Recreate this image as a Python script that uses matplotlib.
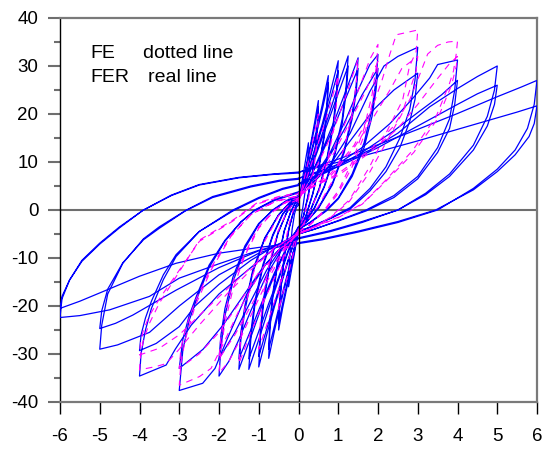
import matplotlib
matplotlib.use("Agg")
import matplotlib.pyplot as plt
from matplotlib.ticker import MultipleLocator

plt.rcParams['font.family'] = ['Liberation Sans', 'DejaVu Sans']

# ---------------- data (displacement, force) ----------------
# FER (blue solid) loops, two cycles per amplitude
fer_6 = [(0, 7.8), (1, 10.6), (2, 13.6), (3, 16.8), (4, 20.1), (5, 23.6), (5.6, 25.6), (6, 27.0),
         (5.93, 22.0), (5.76, 17.0), (5.45, 12.5), (5.0, 8.5), (4.4, 4.5), (3.5, 0.0), (2.5, -2.6),
         (1.5, -4.6), (0.6, -6.2), (0, -7.0),
         (-1, -8.4), (-2, -11.2), (-3, -14.2), (-3.75, -18.0), (-4.75, -20.8), (-5.5, -22.0), (-6, -22.4),
         (-5.95, -18.5), (-5.76, -14.6), (-5.45, -10.5), (-5.0, -6.9), (-4.5, -3.5), (-3.9, 0.0),
         (-3.2, 3.1), (-2.5, 5.3), (-1.5, 6.8), (-0.65, 7.5), (0, 7.9),
         (1.5, 11.0), (3, 14.4), (4.5, 18.0), (5.5, 20.4), (6, 21.7),
         (5.93, 18.0), (5.8, 15.3), (5.45, 11.5), (5.0, 8.0), (4.4, 4.2), (3.45, 0.0), (2.5, -2.4),
         (1.5, -4.4), (0.6, -6.0), (0, -6.8),
         (-1, -7.8), (-2, -9.0), (-3.08, -11.1), (-4.0, -13.8), (-4.92, -17.0), (-5.5, -19.0), (-6, -20.5),
         (-5.95, -18.0), (-5.76, -14.6), (-5.45, -10.7), (-5.0, -7.1), (-4.5, -3.7), (-3.92, -0.1),
         (-3.2, 3.0), (-2.5, 5.2), (-1.5, 6.7), (-0.65, 7.4), (0, 7.7)]

fer_5 = [(0, 6.6), (1, 9.5), (1.8, 12.5), (2.5, 16.0), (3.3, 21.5), (4.0, 25.3), (4.5, 27.8), (5, 30.0),
         (4.93, 25.0), (4.75, 19.5), (4.4, 13.5), (3.8, 7.5), (3.2, 3.5), (2.5, 0.0), (1.6, -2.6),
         (0.8, -4.5), (0, -6.0),
         (-1, -9.0), (-2, -13.5), (-3, -20.0), (-3.75, -25.5), (-4.55, -28.1), (-5, -29.0),
         (-4.95, -24.0), (-4.8, -17.5), (-4.42, -11.1), (-3.9, -6.0), (-3.5, -3.5), (-2.82, 0.0),
         (-2.16, 2.8), (-1.2, 5.0), (-0.48, 6.2), (0, 6.6),
         (1, 9.0), (2, 13.0), (3, 17.5), (4, 22.0), (4.5, 24.2), (5, 26.0),
         (4.93, 22.0), (4.75, 17.5), (4.4, 12.5), (3.8, 7.0), (3.2, 3.2), (2.5, 0.0), (1.6, -2.4),
         (0.8, -4.3), (0, -5.8),
         (-1, -8.5), (-2, -12.0), (-3.08, -16.7), (-4.17, -21.9), (-4.6, -23.6), (-5, -24.7),
         (-4.95, -21.0), (-4.8, -16.5), (-4.42, -11.0), (-3.9, -6.2), (-3.5, -3.8), (-2.85, -0.2),
         (-2.16, 2.6), (-1.2, 4.8), (-0.48, 6.0), (0, 6.4)]

fer_4 = [(0, 5.5), (0.8, 8.5), (1.6, 13.0), (2.3, 18.0), (2.9, 23.5), (3.3, 27.5), (3.5, 30.3), (4, 31.25),
         (3.93, 25.0), (3.8, 19.0), (3.5, 13.0), (3.0, 7.0), (2.4, 3.0), (1.7, 0.0), (1.0, -2.2),
         (0.4, -4.0), (0, -5.0),
         (-0.6, -8.0), (-1.2, -12.0), (-2, -17.5), (-2.7, -24.0), (-3.1, -29.0), (-3.33, -32.3), (-4, -34.6),
         (-3.96, -29.9), (-3.85, -25.0), (-3.7, -20.5), (-3.4, -14.5), (-3.08, -9.7), (-2.5, -4.5),
         (-1.65, 0.0), (-1.0, 2.6), (-0.4, 4.5), (0, 5.3),
         (0.8, 8.2), (1.6, 12.0), (2.4, 16.5), (3.0, 20.3), (3.6, 24.0), (4, 27.0),
         (3.93, 22.0), (3.8, 17.0), (3.5, 12.0), (3.0, 6.5), (2.4, 2.6), (1.7, -0.2), (1.0, -2.3),
         (0.4, -4.0), (0, -5.0),
         (-0.6, -7.5), (-1.2, -10.5), (-2, -15.5), (-2.6, -20.0), (-3.0, -24.3), (-3.58, -27.8), (-4, -29.3),
         (-3.96, -26.0), (-3.85, -22.5), (-3.7, -19.0), (-3.4, -13.5), (-3.08, -9.3), (-2.5, -4.5),
         (-1.65, -0.2), (-1.0, 2.4), (-0.4, 4.3), (0, 5.1)]

fer_3 = [(0, 3.5), (0.4, 6.0), (0.8, 9.5), (1.3, 16.0), (1.79, 24.6), (2.15, 30.0), (2.5, 32.0), (3, 33.9),
         (2.93, 27.0), (2.8, 21.0), (2.55, 15.0), (2.2, 9.0), (1.8, 4.5), (1.3, 0.5), (0.8, -1.7),
         (0.3, -3.5), (0, -4.5),
         (-0.4, -7.5), (-0.8, -11.0), (-1.3, -17.5), (-1.8, -27.0), (-2.1, -33.0), (-2.41, -36.1), (-3, -37.6),
         (-2.91, -29.2), (-2.75, -23.0), (-2.57, -18.75), (-2.25, -12.0), (-1.85, -6.5), (-1.45, -2.5),
         (-1.1, 0.0), (-0.6, 2.2), (0, 3.8),
         (0.4, 6.0), (0.9, 10.0), (1.4, 15.5), (1.9, 21.0), (2.4, 25.0), (3, 28.5),
         (2.93, 23.0), (2.8, 18.5), (2.55, 13.0), (2.2, 8.0), (1.8, 4.0), (1.3, 0.2), (0.8, -1.8),
         (0.3, -3.6), (0, -4.5),
         (-0.4, -7.5), (-0.9, -12.0), (-1.4, -18.0), (-1.9, -24.0), (-2.4, -29.0), (-3, -33.0),
         (-2.91, -27.0), (-2.75, -22.0), (-2.57, -18.0), (-2.25, -11.5), (-1.85, -6.3), (-1.45, -2.5),
         (-1.1, -0.1), (-0.6, 2.0), (0, 3.6)]

fer_2 = [(0, 3.0), (0.4, 7.0), (0.8, 12.0), (1.2, 19.0), (1.5, 25.0), (1.79, 30.2), (2, 32.4),
         (1.95, 27.0), (1.85, 21.0), (1.65, 14.0), (1.35, 7.5), (1.0, 2.5), (0.7, 0.0), (0.3, -2.5), (0, -4.0),
         (-0.4, -8.0), (-0.8, -13.5), (-1.2, -21.0), (-1.5, -27.0), (-1.75, -31.5), (-2, -34.6),
         (-1.95, -28.5), (-1.85, -22.0), (-1.65, -15.0), (-1.35, -8.0), (-1.0, -3.0), (-0.65, 0.0),
         (-0.3, 2.0), (0, 3.0),
         (0.4, 6.5), (0.8, 11.5), (1.2, 17.5), (1.6, 24.0), (2, 29.5),
         (1.95, 25.0), (1.85, 19.5), (1.65, 13.0), (1.35, 7.0), (1.0, 2.3), (0.7, -0.2), (0.3, -2.6), (0, -4.0),
         (-0.4, -7.5), (-0.8, -12.5), (-1.2, -19.0), (-1.6, -25.5), (-2, -31.0),
         (-1.95, -26.0), (-1.85, -20.5), (-1.65, -14.0), (-1.35, -7.5), (-1.0, -2.8), (-0.65, -0.1),
         (-0.3, 1.8), (0, 2.8)]

fer_15 = [(0, 2.5), (0.3, 7.0), (0.6, 12.5), (0.9, 18.5), (1.2, 25.0), (1.5, 31.7),
          (1.45, 26.0), (1.35, 20.0), (1.15, 12.5), (0.85, 5.5), (0.5, 0.5), (0.2, -2.5), (0, -3.5),
          (-0.3, -8.0), (-0.6, -13.5), (-0.9, -19.5), (-1.2, -26.5), (-1.5, -33.2),
          (-1.45, -27.0), (-1.35, -21.0), (-1.15, -13.0), (-0.85, -6.0), (-0.5, -1.0), (-0.2, 1.8), (0, 2.8),
          (0.3, 6.8), (0.6, 12.0), (0.9, 17.5), (1.2, 23.5), (1.5, 29.5),
          (1.45, 24.5), (1.35, 19.0), (1.15, 12.0), (0.85, 5.2), (0.5, 0.3), (0.2, -2.5), (0, -3.5),
          (-0.3, -7.8), (-0.6, -13.0), (-0.9, -18.8), (-1.2, -25.0), (-1.5, -31.0),
          (-1.45, -25.5), (-1.35, -20.0), (-1.15, -12.5), (-0.85, -5.8), (-0.5, -1.0), (-0.2, 1.6), (0, 2.6)]

fer_125 = [(0, 2.2), (0.25, 7.5), (0.5, 13.5), (0.75, 19.5), (1.0, 26.0), (1.25, 32.1),
           (1.2, 26.0), (1.1, 19.0), (0.9, 11.5), (0.65, 5.0), (0.4, 0.5), (0.15, -2.8), (0, -3.8),
           (-0.25, -8.5), (-0.5, -14.5), (-0.75, -20.5), (-1.0, -27.0), (-1.25, -33.2),
           (-1.2, -27.0), (-1.1, -20.0), (-0.9, -12.0), (-0.65, -5.5), (-0.4, -1.0), (-0.15, 1.8), (0, 2.6),
           (0.25, 7.0), (0.5, 12.8), (0.75, 18.5), (1.0, 24.3), (1.25, 30.0),
           (1.2, 24.5), (1.1, 18.0), (0.9, 11.0), (0.65, 4.8), (0.4, 0.3), (0.15, -2.8), (0, -3.8),
           (-0.25, -8.2), (-0.5, -14.0), (-0.75, -19.5), (-1.0, -25.3), (-1.25, -31.0),
           (-1.2, -25.5), (-1.1, -19.0), (-0.9, -11.5), (-0.65, -5.2), (-0.4, -0.8), (-0.15, 1.7), (0, 2.5)]

fer_1 = [(0, 2.0), (0.2, 7.0), (0.4, 12.5), (0.6, 18.0), (0.8, 24.5), (1.0, 31.1),
         (0.96, 25.0), (0.88, 18.5), (0.72, 11.0), (0.52, 4.5), (0.3, 0.0), (0.12, -3.0), (0, -4.0),
         (-0.2, -9.0), (-0.4, -14.5), (-0.6, -20.0), (-0.8, -26.0), (-1.0, -32.7),
         (-0.96, -26.5), (-0.88, -19.5), (-0.72, -11.5), (-0.52, -5.0), (-0.3, -0.5), (-0.12, 1.8), (0, 2.4),
         (0.2, 6.8), (0.4, 12.0), (0.6, 17.3), (0.8, 23.0), (1.0, 29.0),
         (0.96, 23.5), (0.88, 17.5), (0.72, 10.5), (0.52, 4.3), (0.3, -0.2), (0.12, -3.0), (0, -4.0),
         (-0.2, -8.8), (-0.4, -14.0), (-0.6, -19.3), (-0.8, -24.8), (-1.0, -30.5),
         (-0.96, -25.0), (-0.88, -18.5), (-0.72, -11.0), (-0.52, -4.8), (-0.3, -0.6), (-0.12, 1.6), (0, 2.2)]

fer_075 = [(0, 1.8), (0.15, 6.5), (0.3, 11.5), (0.45, 16.5), (0.6, 22.0), (0.75, 28.0),
           (0.72, 22.5), (0.65, 16.0), (0.52, 9.5), (0.36, 3.5), (0.2, -0.8), (0.08, -3.5), (0, -4.5),
           (-0.15, -9.5), (-0.3, -14.5), (-0.45, -19.5), (-0.6, -25.0), (-0.75, -30.9),
           (-0.72, -25.0), (-0.65, -18.5), (-0.52, -11.0), (-0.36, -4.5), (-0.2, -0.5), (-0.08, 1.6), (0, 2.0),
           (0.15, 6.3), (0.3, 11.0), (0.45, 15.8), (0.6, 21.0), (0.75, 26.5),
           (0.72, 21.5), (0.65, 15.3), (0.52, 9.0), (0.36, 3.3), (0.2, -1.0), (0.08, -3.6), (0, -4.5),
           (-0.15, -9.3), (-0.3, -14.0), (-0.45, -18.8), (-0.6, -24.0), (-0.75, -29.0),
           (-0.72, -23.5), (-0.65, -17.5), (-0.52, -10.5), (-0.36, -4.3), (-0.2, -0.5), (-0.08, 1.5), (0, 1.9)]

fer_05 = [(0, 1.5), (0.1, 5.5), (0.2, 9.5), (0.3, 13.5), (0.4, 18.0), (0.5, 22.8),
          (0.48, 18.5), (0.43, 13.5), (0.35, 8.0), (0.24, 3.0), (0.13, -1.0), (0.05, -3.5), (0, -4.5),
          (-0.1, -8.5), (-0.2, -12.5), (-0.3, -16.5), (-0.4, -20.5), (-0.5, -25.0),
          (-0.48, -20.5), (-0.43, -15.5), (-0.35, -9.5), (-0.24, -4.0), (-0.13, -0.5), (-0.05, 1.2), (0, 1.6),
          (0.1, 5.3), (0.2, 9.0), (0.3, 13.0), (0.4, 17.0), (0.5, 21.5),
          (0.48, 17.5), (0.43, 12.8), (0.35, 7.5), (0.24, 2.8), (0.13, -1.2), (0.05, -3.6), (0, -4.5),
          (-0.1, -8.3), (-0.2, -12.0), (-0.3, -15.8), (-0.4, -19.5), (-0.5, -23.5),
          (-0.48, -19.5), (-0.43, -14.8), (-0.35, -9.0), (-0.24, -3.8), (-0.13, -0.5), (-0.05, 1.1), (0, 1.5)]

fer_025 = [(0, 1.0), (0.05, 4.0), (0.1, 6.5), (0.15, 9.0), (0.2, 11.5), (0.25, 14.0),
           (0.24, 11.0), (0.21, 7.5), (0.16, 3.5), (0.1, 0.0), (0.05, -2.5), (0, -4.0),
           (-0.05, -6.5), (-0.1, -9.0), (-0.15, -11.3), (-0.2, -13.6), (-0.25, -16.0),
           (-0.24, -12.5), (-0.21, -8.5), (-0.16, -4.0), (-0.1, -0.8), (-0.05, 0.6), (0, 1.0)]

# FE (magenta dashed) loops
fe_4 = [(0, 3.3), (1, 7.6), (1.8, 12.5), (2.4, 17.5), (2.8, 23.0), (3.04, 28.0), (3.25, 32.5), (3.5, 34.3),
        (3.76, 35.0), (4, 35.2),
        (3.97, 32.6), (3.9, 29.0), (3.8, 26.4), (3.46, 19.4), (2.88, 12.5), (2.2, 6.25), (1.62, 1.4),
        (1.0, -1.5), (0.4, -3.5), (0, -4.8),
        (-0.6, -8.0), (-1.2, -12.5), (-1.8, -17.5), (-2.5, -24.0), (-3.0, -29.0), (-3.33, -32.0),
        (-3.58, -32.6), (-4, -33.3),
        (-3.97, -30.0), (-3.9, -27.0), (-3.75, -23.6), (-3.5, -19.4), (-3.08, -13.9), (-2.49, -6.25),
        (-1.65, -2.1), (-1.06, 1.4), (-0.5, 2.8), (0, 3.6),
        (1, 7.2), (1.8, 12.0), (2.5, 17.0), (3.0, 22.0), (3.46, 27.0), (3.8, 30.5), (4, 32.0),
        (3.97, 30.0), (3.85, 26.0), (3.5, 19.0), (2.9, 12.0), (2.2, 6.0), (1.6, 1.2), (1.0, -1.6),
        (0.4, -3.6), (0, -4.8),
        (-0.6, -7.8), (-1.2, -12.0), (-1.8, -16.5), (-2.5, -22.0), (-3.0, -26.0), (-3.5, -28.8), (-4, -30.2),
        (-3.97, -27.5), (-3.9, -25.0), (-3.75, -22.0), (-3.5, -18.5), (-3.08, -13.5), (-2.49, -6.5),
        (-1.65, -2.3), (-1.06, 1.2), (-0.5, 2.6), (0, 3.4)]

fe_3 = [(0, 3.0), (0.8, 7.5), (1.4, 13.5), (1.8, 20.0), (2.1, 27.0), (2.3, 32.5), (2.46, 36.5), (3, 37.5),
        (2.96, 33.0), (2.79, 29.9), (2.62, 22.9), (2.2, 16.0), (1.79, 9.0), (1.28, 2.1), (0.8, -1.5),
        (0.3, -4.0), (0, -5.0),
        (-0.5, -8.5), (-1.0, -13.5), (-1.5, -21.0), (-1.9, -28.0), (-2.2, -33.0), (-2.49, -34.7), (-3, -36.5),
        (-2.96, -32.0), (-2.85, -27.0), (-2.6, -20.0), (-2.2, -12.5), (-1.7, -5.5), (-1.2, -1.0),
        (-0.6, 1.8), (0, 3.0),
        (0.8, 7.0), (1.4, 13.0), (1.9, 19.5), (2.3, 25.0), (2.6, 29.5), (3, 32.0),
        (2.96, 29.0), (2.8, 25.0), (2.6, 20.0), (2.2, 14.0), (1.8, 8.0), (1.28, 1.8), (0.8, -1.6),
        (0.3, -4.0), (0, -5.0),
        (-0.5, -8.3), (-1.0, -13.0), (-1.5, -19.5), (-2.0, -25.5), (-2.5, -30.0), (-3, -33.0),
        (-2.96, -29.0), (-2.85, -25.0), (-2.6, -19.0), (-2.2, -12.0), (-1.7, -5.3), (-1.2, -1.0),
        (-0.6, 1.7), (0, 2.9)]

fe_2 = [(0, 2.5), (0.5, 7.0), (0.9, 13.0), (1.3, 20.5), (1.6, 27.0), (1.8, 31.5), (2, 34.5),
        (1.96, 30.0), (1.85, 24.0), (1.65, 17.0), (1.35, 10.0), (1.0, 4.0), (0.65, 0.0), (0.3, -3.0), (0, -4.5),
        (-0.4, -9.0), (-0.8, -15.0), (-1.2, -22.0), (-1.5, -27.5), (-1.75, -31.5), (-2, -34.0),
        (-1.96, -29.5), (-1.85, -23.5), (-1.65, -16.5), (-1.35, -9.5), (-1.0, -3.8), (-0.6, 0.0),
        (-0.3, 1.8), (0, 2.5),
        (0.5, 6.5), (0.9, 12.0), (1.3, 18.5), (1.7, 25.0), (2, 31.0),
        (1.96, 27.0), (1.85, 22.0), (1.65, 15.5), (1.35, 9.0), (1.0, 3.5), (0.65, -0.3), (0.3, -3.0), (0, -4.5),
        (-0.4, -8.5), (-0.8, -14.0), (-1.2, -20.0), (-1.6, -26.0), (-2, -31.0),
        (-1.96, -27.0), (-1.85, -21.5), (-1.65, -15.0), (-1.35, -9.0), (-1.0, -3.5), (-0.6, -0.2),
        (-0.3, 1.6), (0, 2.3)]

fe_15 = [(0, 2.0), (0.3, 6.5), (0.6, 11.5), (0.9, 17.0), (1.2, 24.0), (1.5, 31.5),
         (1.45, 26.0), (1.35, 20.0), (1.15, 13.0), (0.85, 6.0), (0.5, 0.8), (0.2, -2.5), (0, -4.0),
         (-0.3, -8.5), (-0.6, -14.0), (-0.9, -19.5), (-1.2, -25.5), (-1.5, -32.0),
         (-1.45, -26.5), (-1.35, -20.5), (-1.15, -13.5), (-0.85, -6.5), (-0.5, -1.2), (-0.2, 1.5), (0, 2.2)]

fe_1 = [(0, 1.8), (0.2, 6.5), (0.4, 11.5), (0.6, 16.5), (0.8, 22.0), (1.0, 28.0),
        (0.96, 22.5), (0.88, 16.5), (0.72, 10.0), (0.52, 4.0), (0.3, 0.0), (0.12, -3.0), (0, -4.0),
        (-0.2, -9.0), (-0.4, -14.0), (-0.6, -19.0), (-0.8, -24.0), (-1.0, -29.0),
        (-0.96, -23.5), (-0.88, -17.5), (-0.72, -10.5), (-0.52, -4.5), (-0.3, -0.5), (-0.12, 1.5), (0, 2.0)]

fe_05 = [(0, 1.5), (0.1, 5.0), (0.2, 8.5), (0.3, 12.0), (0.4, 16.0), (0.5, 20.0),
         (0.48, 16.0), (0.43, 11.5), (0.35, 6.5), (0.24, 2.0), (0.13, -1.5), (0, -4.0),
         (-0.1, -8.0), (-0.2, -11.5), (-0.3, -14.5), (-0.4, -17.5), (-0.5, -21.0),
         (-0.48, -17.0), (-0.43, -12.5), (-0.35, -7.5), (-0.24, -3.0), (-0.13, 0.0), (0, 1.5)]

fer_loops = [fer_6, fer_5, fer_4, fer_3, fer_2, fer_15, fer_125, fer_1, fer_075, fer_05, fer_025]
fe_loops = [fe_4, fe_3, fe_2, fe_15, fe_1, fe_05]

x_ticks = list(range(-6, 7))
y_ticks = list(range(-40, 41, 10))
label_rows = [("FE", "dotted line"), ("FER", "real line")]

# ---------------- figure ----------------
W, H = 543, 450
fig = plt.figure(figsize=(W / 100, H / 100), dpi=100)
L, R, T, B = 60, 537, 18, 402
ax = fig.add_axes([L / W, 1 - B / H, (R - L) / W, (B - T) / H])

for loop in fer_loops:
    xs = [p[0] for p in loop]
    ys = [p[1] for p in loop]
    ax.plot(xs, ys, color='#0000FF', lw=0.9, zorder=3)
for loop in fe_loops:
    xs = [p[0] for p in loop]
    ys = [p[1] for p in loop]
    ax.plot(xs, ys, color='#FF00FF', lw=0.8, ls=(0, (6, 5)), zorder=4)

ax.axhline(0, color='#6e6e6e', lw=1.5, zorder=2)
ax.axvline(0, color='black', lw=1.0, zorder=5)

ax.set_xlim(-6, 6)
ax.set_ylim(-40, 40)
ax.set_xticks(x_ticks)
ax.set_xticklabels([str(v) for v in x_ticks])
ax.set_yticks(y_ticks)
ax.set_yticklabels([str(v) for v in y_ticks])
ax.yaxis.set_minor_locator(MultipleLocator(5))

ax.tick_params(axis='x', direction='out', length=8.6, width=1.0, color='black',
               labelsize=13.5, pad=10)
ax.tick_params(axis='y', which='major', direction='out', length=8.6, width=1.5,
               color='#6e6e6e', labelsize=13.5, pad=7)
ax.tick_params(axis='y', which='minor', direction='out', length=4.3, width=1.5, color='#6e6e6e')

for s in ['top', 'right', 'bottom']:
    ax.spines[s].set_color('#7a7a7a')
    ax.spines[s].set_linewidth(1.6)
ax.spines['left'].set_color('black')
ax.spines['left'].set_linewidth(1.0)

# legend-like annotation
ypos = [53, 77]
xdesc = [143, 148]
for (name, desc), yp, xd in zip(label_rows, ypos, xdesc):
    fig.text(90 / W, 1 - yp / H, name, fontsize=14, va='center', ha='left')
    fig.text(xd / W, 1 - yp / H, desc, fontsize=14, va='center', ha='left')

fig.savefig('out.png', dpi=100)
